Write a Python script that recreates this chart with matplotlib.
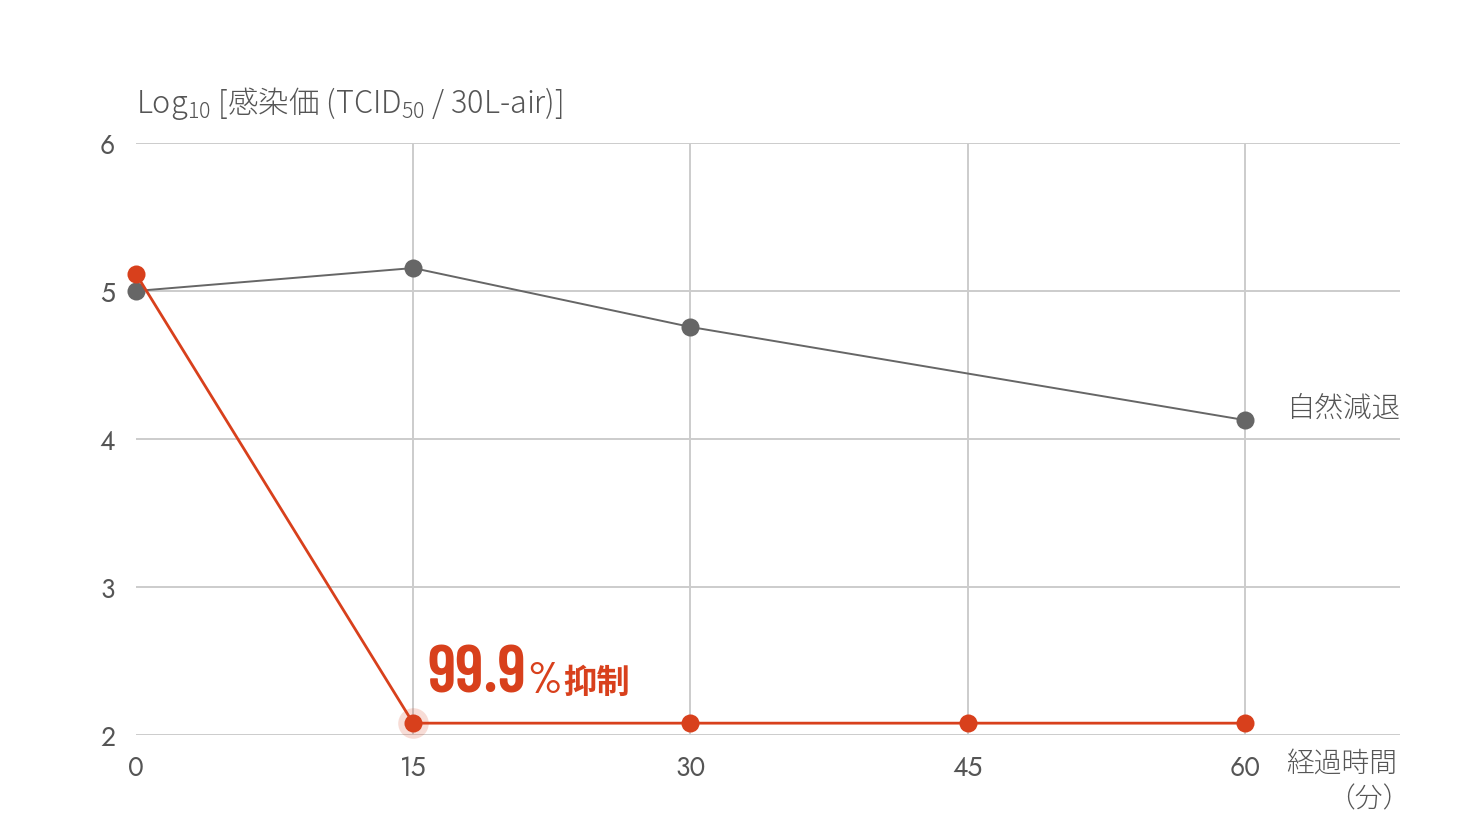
import numpy as np
import matplotlib
matplotlib.use('Agg')
import matplotlib.pyplot as plt

plt.rcParams['font.family'] = ['Jost', 'Noto Sans CJK JP', 'DejaVu Sans']
plt.rcParams['font.weight'] = 'light'
plt.rcParams['mathtext.fontset'] = 'custom'
plt.rcParams['mathtext.rm'] = 'Noto Sans CJK JP'
plt.rcParams['mathtext.default'] = 'regular'

# data
minutes = [0, 15, 30, 60]
natural = [5.0, 5.155, 4.757, 4.128]
minutes_red = [0, 15, 30, 45, 60]
treated = [5.115, 2.08, 2.08, 2.08, 2.08]
x_ticks = [0, 15, 30, 45, 60]
y_ticks = [2, 3, 4, 5, 6]

red = '#D8401C'
gray = '#666666'
txt = '#555555'

fig = plt.figure(figsize=(14.8, 8.4), dpi=100)
ax = fig.add_axes([0.0919, 0.125, 0.854, 0.7048])
ax.set_xlim(0, 68.4)
ax.set_ylim(2, 6)

for yv in y_ticks:
    ax.axhline(yv, color='#CCCCCC', lw=1.4, zorder=1)
for xv in x_ticks[1:]:
    ax.axvline(xv, color='#CCCCCC', lw=1.4, zorder=1)

ax.plot(minutes, natural, color=gray, lw=1.4, marker='o', ms=13,
        markeredgewidth=0, clip_on=False, zorder=3)
ax.plot(minutes_red, treated, color=red, lw=2.0, marker='o', ms=13,
        markeredgewidth=0, clip_on=False, zorder=4)
# halo at 15 min
ax.plot([minutes_red[1]], [treated[1]], 'o', ms=22, color=red, alpha=0.18,
        markeredgewidth=0, clip_on=False, zorder=2)

for s in ax.spines.values():
    s.set_visible(False)
ax.set_xticks(x_ticks)
ax.set_yticks(y_ticks)
ax.tick_params(length=0, labelsize=19, labelcolor=txt)
ax.tick_params(axis='x', pad=14)
ax.tick_params(axis='y', pad=15)

ax.text(0, 6.20, 'Log$_{10}$ [感染価 (TCID$_{50}$ / 30L-air)]', fontsize=22,
        color=txt, ha='left', va='baseline', family=['Noto Sans CJK JP'])

ax.text(68.4, 4.15, '自然減退', fontsize=20.5, color=txt, ha='right', va='baseline')
fig.text(1397 / 1480, 1 - 772 / 840, '経過時間', fontsize=20, color=txt, ha='right', va='baseline')
fig.text(1410 / 1480, 1 - 807 / 840, '（分）', fontsize=20, color=txt, ha='right', va='baseline')

cond = ['Barlow Condensed', 'Oswald', 'Roboto Condensed', 'Noto Sans CJK JP']
ax.text(15.8, 2.284, '99.9', fontsize=48, color=red, fontweight='semibold',
        family=cond, ha='left', va='baseline')
ax.text(21.15, 2.284, '%', fontsize=32, color=red, fontweight='medium',
        family=cond, ha='left', va='baseline')
ax.text(23.1, 2.284, '抑制', fontsize=24, color=red, fontweight='bold',
        family=['Noto Sans CJK JP'], ha='left', va='baseline')

fig.savefig('out.png', dpi=100)
